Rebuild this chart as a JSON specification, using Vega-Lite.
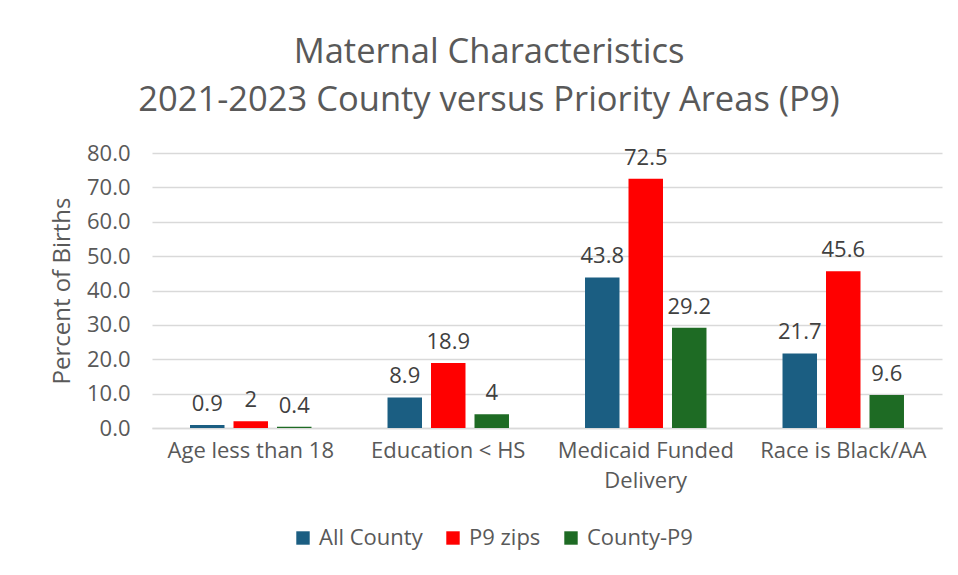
{
  "$schema": "https://vega.github.io/schema/vega-lite/v6.json",
  "autosize": {"type": "none"},
  "width": 790,
  "height": 275,
  "padding": {"left": 152, "top": 153, "right": 16, "bottom": 147},
  "background": "white",
  "config": {
    "font": "Open Sans",
    "view": {"stroke": null}
  },
  "title": {
    "text": ["Maternal Characteristics", "2021-2023 County versus Priority Areas (P9)"],
    "fontSize": 34.5,
    "fontWeight": "normal",
    "color": "#595959",
    "anchor": "middle",
    "dx": -58,
    "lineHeight": 48,
    "offset": 24
  },
  "data": {
    "values": [
      {"category": "Age less than 18", "group": "All County", "value": 0.9},
      {"category": "Age less than 18", "group": "P9 zips", "value": 2},
      {"category": "Age less than 18", "group": "County-P9", "value": 0.4},
      {"category": "Education < HS", "group": "All County", "value": 8.9},
      {"category": "Education < HS", "group": "P9 zips", "value": 18.9},
      {"category": "Education < HS", "group": "County-P9", "value": 4},
      {"category": "Medicaid Funded Delivery", "group": "All County", "value": 43.8},
      {"category": "Medicaid Funded Delivery", "group": "P9 zips", "value": 72.5},
      {"category": "Medicaid Funded Delivery", "group": "County-P9", "value": 29.2},
      {"category": "Race is Black/AA", "group": "All County", "value": 21.7},
      {"category": "Race is Black/AA", "group": "P9 zips", "value": 45.6},
      {"category": "Race is Black/AA", "group": "County-P9", "value": 9.6}
    ]
  },
  "encoding": {
    "x": {
      "field": "category", "type": "nominal", "sort": null,
      "scale": {"paddingInner": 0, "paddingOuter": 0},
      "axis": {
        "title": null, "labelAngle": 0, "labelFontSize": 22, "labelColor": "#595959",
        "ticks": false, "domainColor": "#d9d9d9", "domainWidth": 1.5, "labelPadding": 12,
        "labelLineHeight": 30,
        "labelExpr": "datum.label == 'Medicaid Funded Delivery' ? ['Medicaid Funded', 'Delivery'] : datum.label"
      }
    },
    "xOffset": {
      "field": "group", "type": "nominal", "sort": ["All County", "P9 zips", "County-P9"],
      "scale": {"paddingInner": 0.207, "paddingOuter": 0.874}
    },
    "y": {
      "field": "value", "type": "quantitative",
      "scale": {"domain": [0, 80], "nice": false},
      "axis": {
        "title": "Percent of Births", "titleFontSize": 24, "titleFontWeight": "normal", "titleColor": "#595959",
        "titlePadding": 12,
        "labelFontSize": 22, "labelColor": "#595959", "format": ".1f", "values": [0,10,20,30,40,50,60,70,80],
        "labelOverlap": false,
        "ticks": false, "domain": false, "gridColor": "#d9d9d9", "gridWidth": 1.5, "labelPadding": 22
      }
    }
  },
  "layer": [
    {
      "mark": {"type": "bar"},
      "encoding": {
        "color": {
          "field": "group", "type": "nominal", "sort": ["All County", "P9 zips", "County-P9"],
          "scale": {"domain": ["All County", "P9 zips", "County-P9"], "range": ["#1b5e82", "#ff0000", "#1e6b24"]},
          "legend": {
            "title": null, "orient": "none", "direction": "horizontal",
            "legendX": 140, "legendY": 374,
            "symbolType": "square", "symbolSize": 180, "symbolStrokeWidth": 0,
            "labelFontSize": 22, "labelColor": "#595959", "columnPadding": 19, "labelOffset": 5
          }
        }
      }
    },
    {
      "mark": {"type": "text", "baseline": "bottom", "dy": -9, "fontSize": 22, "color": "#404040"},
      "encoding": {"text": {"field": "value", "type": "quantitative"}}
    }
  ]
}
